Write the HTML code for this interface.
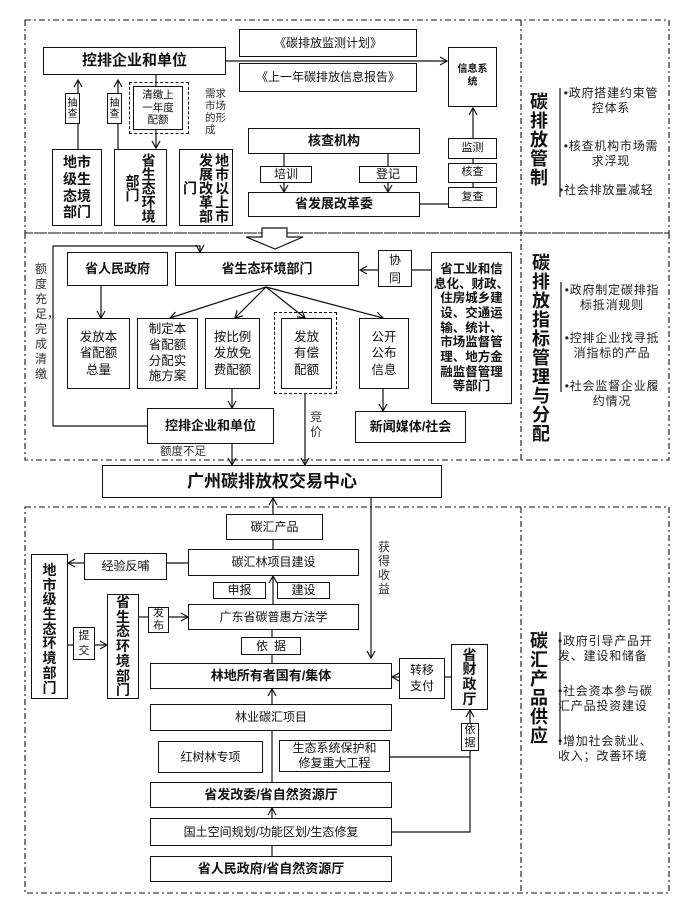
<!DOCTYPE html>
<html><head><meta charset="utf-8"><style>
*{margin:0;padding:0;box-sizing:border-box}
body{width:695px;height:902px;background:#fff;position:relative;overflow:hidden;font-family:"Liberation Sans","Noto Sans CJK SC",sans-serif;color:#111}
.b{position:absolute;border:1.3px solid #111;background:#fff;display:flex;align-items:center;justify-content:center;text-align:center;font-size:12px;line-height:1.25;z-index:2}
.k{font-weight:bold;font-size:13px}
.d{position:absolute;border:1.2px dashed #111;z-index:1}
.t{position:absolute;font-size:11px;line-height:1.2;z-index:2;color:#333}
.v{writing-mode:vertical-rl;font-weight:bold;font-size:14px;line-height:1.15}
svg{position:absolute;left:0;top:0;z-index:1}
.R{position:absolute;font-size:12px;line-height:15px;color:#222;z-index:2;white-space:nowrap;letter-spacing:0.8px}
.RT{position:absolute;font-weight:bold;font-size:18px;line-height:19px;width:20px;z-index:2;color:#111}
</style></head><body>
<svg width="695" height="902">
<defs><marker id="a" markerWidth="10" markerHeight="10" refX="8" refY="5" orient="auto" markerUnits="userSpaceOnUse"><path d="M1,1 L8,5 L1,9" fill="none" stroke="#111" stroke-width="1.2"/></marker></defs>
<g fill="none" stroke="#111" stroke-width="1.1" stroke-dasharray="6,3,2,3">
<rect x="25" y="20" width="644" height="213"/>
<rect x="25" y="233" width="644" height="227"/>
<rect x="25" y="507" width="644" height="386"/>
<line x1="521" y1="20" x2="521" y2="460"/>
<line x1="521" y1="507" x2="521" y2="893"/>
</g>
<polygon points="262,228 287,228 287,237 303,237 275,249 246,237 262,237" fill="#fff" stroke="#111" stroke-width="1.2"/>
<g stroke="#111" stroke-width="1.2" fill="none">
<line x1="226" y1="61" x2="447" y2="61" marker-end="url(#a)"/>
<line x1="78" y1="149" x2="78" y2="80" marker-end="url(#a)"/>
<line x1="118" y1="149" x2="118" y2="80" marker-end="url(#a)"/>
<line x1="156" y1="75" x2="156" y2="86"/>
<line x1="156" y1="130" x2="156" y2="148" marker-end="url(#a)"/>
<line x1="284" y1="154" x2="284" y2="192" marker-end="url(#a)"/>
<line x1="388" y1="154" x2="388" y2="192" marker-end="url(#a)"/>
<line x1="420" y1="204" x2="448" y2="204"/>
<line x1="473" y1="138" x2="473" y2="108" marker-end="url(#a)"/>
<line x1="473" y1="159" x2="473" y2="187"/>
<polyline points="148,426 53,426 53,246 200,246 200,252" marker-end="url(#a)"/>
<line x1="412" y1="270" x2="431" y2="270"/>
<line x1="378" y1="270" x2="360" y2="270" marker-end="url(#a)"/>
<line x1="101" y1="286" x2="101" y2="318" marker-end="url(#a)"/>
<line x1="266" y1="287" x2="170" y2="318" marker-end="url(#a)"/>
<line x1="266" y1="287" x2="235" y2="318" marker-end="url(#a)"/>
<line x1="266" y1="287" x2="305" y2="318" marker-end="url(#a)"/>
<line x1="266" y1="287" x2="383" y2="318" marker-end="url(#a)"/>
<line x1="232" y1="389" x2="232" y2="408" marker-end="url(#a)"/>
<line x1="383" y1="389" x2="383" y2="411" marker-end="url(#a)"/>
<line x1="305" y1="394" x2="305" y2="465" marker-end="url(#a)"/>
<line x1="232" y1="444" x2="232" y2="465" marker-end="url(#a)"/>
<line x1="273" y1="514" x2="273" y2="498" marker-end="url(#a)"/>
<line x1="371" y1="498" x2="371" y2="658" marker-end="url(#a)"/>
<line x1="273" y1="540" x2="273" y2="549"/>
<line x1="188" y1="563" x2="167" y2="563"/>
<line x1="84" y1="563" x2="68" y2="563" marker-end="url(#a)"/>
<line x1="273" y1="604" x2="273" y2="576" marker-end="url(#a)"/>
<line x1="139" y1="617" x2="148" y2="617"/>
<line x1="169" y1="617" x2="188" y2="617" marker-end="url(#a)"/>
<line x1="68" y1="645" x2="73" y2="645"/>
<line x1="95" y1="645" x2="107" y2="645" marker-end="url(#a)"/>
<line x1="272" y1="630" x2="272" y2="663"/>
<line x1="445" y1="677" x2="451" y2="677"/>
<line x1="399" y1="677" x2="392" y2="677" marker-end="url(#a)"/>
<line x1="272" y1="704" x2="272" y2="689" marker-end="url(#a)"/>
<line x1="272" y1="731" x2="272" y2="782"/>
<line x1="272" y1="818" x2="272" y2="808" marker-end="url(#a)"/>
<line x1="272" y1="846" x2="272" y2="856"/>
<polyline points="390,757 470,757"/>
<polyline points="392,832 470,832 470,710" marker-end="url(#a)"/>
<line x1="560" y1="88" x2="560" y2="197"/>
<line x1="561" y1="282" x2="561" y2="392"/>
<line x1="560" y1="632" x2="560" y2="745"/>
</g>
</svg>

<!-- section 1 -->
<div class="b k" style="left:43px;top:47px;width:183px;height:28px;font-size:15px">控排企业和单位</div>
<div class="b" style="left:239px;top:29px;width:178px;height:28px">《碳排放监测计划》</div>
<div class="b" style="left:239px;top:63px;width:178px;height:29px">《上一年碳排放信息报告》</div>
<div class="b k" style="left:448px;top:47px;width:49px;height:60px;font-size:10px;align-items:flex-start;padding-top:16px">信息系<br>统</div>
<div class="b" style="left:65px;top:93px;width:15px;height:31px;font-size:10px;line-height:1.1">抽<br>查</div>
<div class="b" style="left:107px;top:93px;width:15px;height:31px;font-size:10px;line-height:1.1">抽<br>查</div>
<div class="d" style="left:129px;top:82px;width:60px;height:52px"></div>
<div class="b" style="left:133px;top:86px;width:50px;height:44px;font-size:10.5px;line-height:1.2">清缴上<br>一年度<br>配额</div>
<div class="t" style="left:205px;top:88px;font-size:10.5px;line-height:12px">需求<br>市场<br>的形<br>成</div>
<div class="b" style="left:52px;top:149px;width:50px;height:77px;font-weight:bold;font-size:14px;line-height:1.2">地市<br>级生<br>态境<br>部门</div>
<div class="b" style="left:114px;top:149px;width:53px;height:77px"><div class="v">省生态环境<br>部门</div></div>
<div class="b" style="left:179px;top:149px;width:54px;height:77px"><div class="v">地市以上市<br>发展改革部<br>门</div></div>
<div class="b k" style="left:248px;top:128px;width:172px;height:26px">核查机构</div>
<div class="b" style="left:260px;top:166px;width:52px;height:17px">培训</div>
<div class="b" style="left:359px;top:166px;width:58px;height:17px">登记</div>
<div class="b k" style="left:248px;top:192px;width:172px;height:25px">省发展改革委</div>
<div class="b" style="left:448px;top:138px;width:49px;height:21px;font-size:11px">监测</div>
<div class="b" style="left:448px;top:163px;width:49px;height:20px;font-size:11px">核查</div>
<div class="b" style="left:448px;top:187px;width:49px;height:21px;font-size:11px">复查</div>

<!-- section 2 -->
<div class="b k" style="left:67px;top:252px;width:101px;height:34px">省人民政府</div>
<div class="b k" style="left:175px;top:252px;width:184px;height:34px">省生态环境部门</div>
<div class="b" style="left:378px;top:250px;width:34px;height:37px;line-height:1.5">协<br>同</div>
<div class="b k" style="left:431px;top:252px;width:81px;height:152px;line-height:1.17;font-size:12.5px;white-space:nowrap">省工业和信<br>息化、财政、<br>住房城乡建<br>设、交通运<br>输、统计、<br>市场监督管<br>理、地方金<br>融监督管理<br>等部门</div>
<div class="t" style="left:35px;top:262px;width:14px;font-size:12px;line-height:15px;color:#333">额度充足，完成清缴</div>
<div class="b" style="left:67px;top:318px;width:63px;height:71px;line-height:1.3;font-size:12.5px">发放本<br>省配额<br>总量</div>
<div class="b" style="left:137px;top:318px;width:61px;height:71px;line-height:1.25;font-size:12.5px">制定本<br>省配额<br>分配实<br>施方案</div>
<div class="b" style="left:205px;top:318px;width:55px;height:71px;line-height:1.3;font-size:12.5px">按比例<br>发放免<br>费配额</div>
<div class="d" style="left:274px;top:312px;width:63px;height:82px"></div>
<div class="b" style="left:281px;top:318px;width:51px;height:71px;line-height:1.3;font-size:12.5px">发放<br>有偿<br>配额</div>
<div class="b" style="left:359px;top:318px;width:50px;height:71px;line-height:1.3;font-size:12.5px">公开<br>公布<br>信息</div>
<div class="b k" style="left:147px;top:408px;width:127px;height:36px">控排企业和单位</div>
<div class="b k" style="left:355px;top:411px;width:111px;height:32px">新闻媒体/社会</div>
<div class="t" style="left:310px;top:410px;font-size:12px;line-height:15px">竞<br>价</div>
<div class="t" style="left:160px;top:446px;font-size:11.5px">额度不足</div>
<div class="b k" style="left:102px;top:465px;width:340px;height:33px;font-size:17px">广州碳排放权交易中心</div>

<!-- section 3 -->
<div class="b" style="left:226px;top:514px;width:97px;height:26px">碳汇产品</div>
<div class="b" style="left:188px;top:549px;width:171px;height:27px">碳汇林项目建设</div>
<div class="b" style="left:84px;top:553px;width:83px;height:27px">经验反哺</div>
<div class="b" style="left:31px;top:554px;width:37px;height:145px;font-weight:bold;font-size:14px;line-height:1.05;align-items:flex-start;padding-top:8px">地<br>市<br>级<br>生<br>态<br>环<br>境<br>部<br>门</div>
<div class="b" style="left:213px;top:582px;width:53px;height:17px">申报</div>
<div class="b" style="left:277px;top:582px;width:53px;height:17px">建设</div>
<div class="b" style="left:188px;top:604px;width:171px;height:26px">广东省碳普惠方法学</div>
<div class="b" style="left:148px;top:607px;width:21px;height:26px;font-size:11px;line-height:1.15">发<br>布</div>
<div class="b" style="left:107px;top:594px;width:32px;height:105px;font-weight:bold;font-size:14px;line-height:1.05">省<br>生<br>态<br>环<br>境<br>部<br>门</div>
<div class="b" style="left:73px;top:627px;width:22px;height:33px;font-size:11px;line-height:1.3">提<br>交</div>
<div class="b" style="left:241px;top:637px;width:60px;height:18px;letter-spacing:6px;padding-left:6px">依据</div>
<div class="t" style="left:378px;top:540px;width:14px;font-size:12px;line-height:14px">获得收益</div>
<div class="b k" style="left:150px;top:663px;width:242px;height:26px">林地所有者国有/集体</div>
<div class="b" style="left:399px;top:658px;width:46px;height:41px;line-height:1.3">转移<br>支付</div>
<div class="b" style="left:451px;top:644px;width:37px;height:66px;font-weight:bold;font-size:14px;line-height:1.05">省<br>财<br>政<br>厅</div>
<div class="b" style="left:461px;top:723px;width:18px;height:28px;font-size:11px;line-height:1.2">依<br>据</div>
<div class="b" style="left:150px;top:704px;width:242px;height:27px">林业碳汇项目</div>
<div class="b" style="left:158px;top:741px;width:105px;height:32px">红树林专项</div>
<div class="b" style="left:279px;top:740px;width:111px;height:32px;line-height:1.25">生态系统保护和<br>修复重大工程</div>
<div class="b k" style="left:150px;top:782px;width:242px;height:26px">省发改委/省自然资源厅</div>
<div class="b" style="left:150px;top:818px;width:242px;height:28px">国土空间规划/功能区划/生态修复</div>
<div class="b k" style="left:150px;top:856px;width:242px;height:26px">省人民政府/省自然资源厅</div>

<!-- right column -->
<div class="RT" style="left:530px;top:93px">碳排放管制</div>
<div class="R" style="left:559px;top:86px;width:104px;text-align:center">•政府搭建约束管<br>控体系</div>
<div class="R" style="left:559px;top:139px;width:104px;text-align:center">•核查机构市场需<br>求浮现</div>
<div class="R" style="left:559px;top:183px;width:104px">•社会排放量减轻</div>
<div class="RT" style="left:532px;top:254px">碳排放指标管理与分配</div>
<div class="R" style="left:560px;top:283px;width:104px;text-align:center">•政府制定碳排指<br>标抵消规则</div>
<div class="R" style="left:560px;top:331px;width:104px;text-align:center">•控排企业找寻抵<br>消指标的产品</div>
<div class="R" style="left:560px;top:379px;width:104px;text-align:center">•社会监督企业履<br>约情况</div>
<div class="RT" style="left:530px;top:632px">碳汇产品供应</div>
<div class="R" style="left:558px;top:634px;width:106px">•政府引导产品开<br>发、建设和储备</div>
<div class="R" style="left:558px;top:684px;width:106px">•社会资本参与碳<br>汇产品投资建设</div>
<div class="R" style="left:558px;top:734px;width:106px">•增加社会就业、<br>收入；改善环境</div>
</body></html>
